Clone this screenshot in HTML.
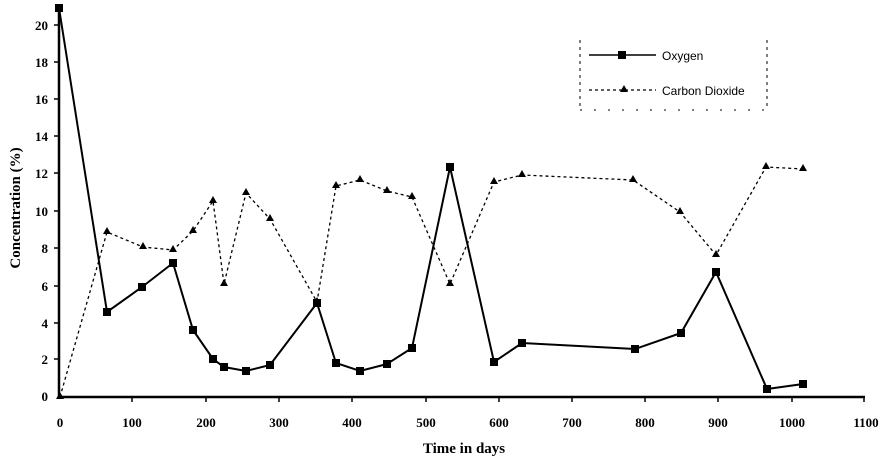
<!DOCTYPE html><html><head><style>body{margin:0;background:#fff}svg{display:block}</style></head><body>
<svg width="886" height="460" xmlns="http://www.w3.org/2000/svg" font-family="Liberation Serif, serif" font-weight="bold">
<g stroke="#000" stroke-width="2.5"><line x1="59" y1="6" x2="59" y2="398"/><line x1="58" y1="397" x2="865" y2="397"/></g>
<g stroke="#000" stroke-width="1.5">
<line x1="54" y1="359" x2="59" y2="359"/><line x1="54" y1="323" x2="59" y2="323"/><line x1="54" y1="286" x2="59" y2="286"/><line x1="54" y1="248" x2="59" y2="248"/><line x1="54" y1="211" x2="59" y2="211"/><line x1="54" y1="173" x2="59" y2="173"/><line x1="54" y1="136" x2="59" y2="136"/><line x1="54" y1="99" x2="59" y2="99"/><line x1="54" y1="62" x2="59" y2="62"/><line x1="54" y1="25" x2="59" y2="25"/>
<line x1="132" y1="397" x2="132" y2="402"/><line x1="206" y1="397" x2="206" y2="402"/><line x1="279" y1="397" x2="279" y2="402"/><line x1="352" y1="397" x2="352" y2="402"/><line x1="426" y1="397" x2="426" y2="402"/><line x1="499" y1="397" x2="499" y2="402"/><line x1="572" y1="397" x2="572" y2="402"/><line x1="645" y1="397" x2="645" y2="402"/><line x1="718" y1="397" x2="718" y2="402"/><line x1="792" y1="397" x2="792" y2="402"/><line x1="864" y1="397" x2="864" y2="402"/>
</g>
<g font-size="13" text-anchor="end">
<text x="48" y="401">0</text><text x="48" y="364">2</text><text x="48" y="328">4</text><text x="48" y="291">6</text><text x="48" y="253">8</text><text x="48" y="216">10</text><text x="48" y="178">12</text><text x="48" y="141">14</text><text x="48" y="104">16</text><text x="48" y="67">18</text><text x="48" y="30">20</text>
</g>
<g font-size="13" text-anchor="middle">
<text x="60" y="427">0</text><text x="132" y="427">100</text><text x="206" y="427">200</text><text x="279" y="427">300</text><text x="352" y="427">400</text><text x="426" y="427">500</text><text x="499" y="427">600</text><text x="572" y="427">700</text><text x="645" y="427">800</text><text x="718" y="427">900</text><text x="792" y="427">1000</text><text x="866" y="427">1100</text>
</g>
<text x="464" y="453" font-size="15" text-anchor="middle">Time in days</text>
<text transform="translate(20,208) rotate(-90)" font-size="15" text-anchor="middle">Concentration (%)</text>
<polyline fill="none" stroke="#000" stroke-width="1.3" stroke-dasharray="3,3" points="60,397 107,232 143,247 173,250 193,231 213,201 224,284 246,193 270,219 317,302 336,186 360,180 387,191 412,197 450,284 494,182 522,175 633,180 680,212 716,255 766,167 803,169"/>
<g fill="#000">
<path d="M60,392l4,7h-8z M107,227l4,7h-8z M143,242l4,7h-8z M173,245l4,7h-8z M193,226l4,7h-8z M213,196l4,7h-8z M224,279l4,7h-8z M246,188l4,7h-8z M270,214l4,7h-8z M317,297l4,7h-8z M336,181l4,7h-8z M360,175l4,7h-8z M387,186l4,7h-8z M412,192l4,7h-8z M450,279l4,7h-8z M494,177l4,7h-8z M522,170l4,7h-8z M633,175l4,7h-8z M680,207l4,7h-8z M716,250l4,7h-8z M766,162l4,7h-8z M803,164l4,7h-8z"/>
</g>
<polyline fill="none" stroke="#000" stroke-width="2" points="59,8 107,312 142,287 173,263 193,330 213,359 224,367 246,371 270,365 317,303 336,363 360,371 387,364 412,348 450,167 494,362 522,343 635,349 681,333 716,272 767,389 803,384"/>
<g fill="#000">
<rect x="55" y="4" width="8" height="8"/><rect x="103" y="308" width="8" height="8"/><rect x="138" y="283" width="8" height="8"/><rect x="169" y="259" width="8" height="8"/><rect x="189" y="326" width="8" height="8"/><rect x="209" y="355" width="8" height="8"/><rect x="220" y="363" width="8" height="8"/><rect x="242" y="367" width="8" height="8"/><rect x="266" y="361" width="8" height="8"/><rect x="313" y="299" width="8" height="8"/><rect x="332" y="359" width="8" height="8"/><rect x="356" y="367" width="8" height="8"/><rect x="383" y="360" width="8" height="8"/><rect x="408" y="344" width="8" height="8"/><rect x="446" y="163" width="8" height="8"/><rect x="490" y="358" width="8" height="8"/><rect x="518" y="339" width="8" height="8"/><rect x="631" y="345" width="8" height="8"/><rect x="677" y="329" width="8" height="8"/><rect x="712" y="268" width="8" height="8"/><rect x="763" y="385" width="8" height="8"/><rect x="799" y="380" width="8" height="8"/>
</g>
<g stroke="#000" stroke-width="1" stroke-dasharray="3,4"><line x1="580" y1="40" x2="580" y2="110"/><line x1="767" y1="40" x2="767" y2="110"/><line x1="580" y1="110" x2="767" y2="110" stroke-dasharray="2,12"/></g>
<line x1="589" y1="55" x2="656" y2="55" stroke="#000" stroke-width="1.5"/><rect x="618" y="51" width="8" height="8" fill="#000"/>
<line x1="589" y1="90" x2="656" y2="90" stroke="#000" stroke-width="1.2" stroke-dasharray="3,3"/><path d="M624,85l4,7h-8z" fill="#000"/>
<g font-family="Liberation Sans, sans-serif" font-weight="normal" font-size="12"><text x="662" y="60">Oxygen</text><text x="662" y="95">Carbon Dioxide</text></g>
</svg></body></html>
